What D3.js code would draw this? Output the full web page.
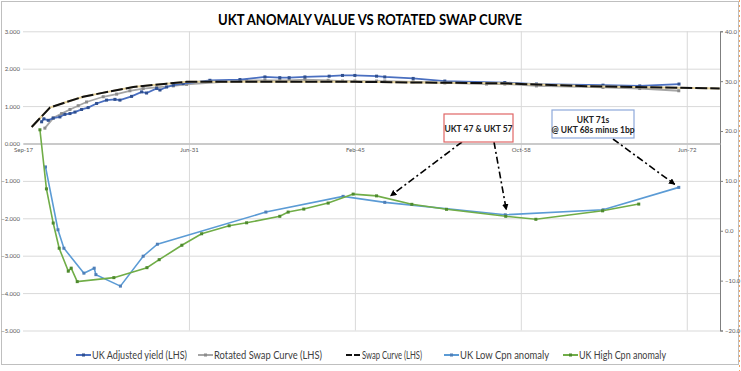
<!DOCTYPE html>
<html>
<head>
<meta charset="utf-8">
<script src="https://cdnjs.cloudflare.com/ajax/libs/d3/7.8.5/d3.min.js"></script>
<style>
    body { margin: 0; background: #fff; }
    svg text { font-family: Lato, "Liberation Sans", sans-serif; }
</style>
</head>
<body>
<svg id="chart" width="741" height="371"></svg>
<script>
// Axis ticks
const leftTicks = [-5, -4, -3, -2, -1, 0, 1, 2, 3];
const rightTicks = [-20, -10, 0, 10, 20, 30, 40];
const dateTicks = ["2017-09-22", "2031-06-01", "2045-02-07", "2058-10-16", "2072-06-24"];
const dateDomain = ["2017-09-22", "2075-03-22"];

// UK Adjusted yield (LHS)
const adjDates = ["2019-04-06", "2019-06-13", "2019-10-23", "2020-03-20", "2020-10-08", "2021-03-07", "2021-08-07",
    "2022-01-05", "2022-07-23", "2023-02-06", "2023-10-19", "2024-08-14", "2025-04-23", "2025-09-20", "2026-09-06",
    "2027-07-05", "2027-12-02", "2028-10-01", "2029-01-08", "2029-07-27", "2030-02-14", "2030-12-09", "2033-02-21",
    "2035-08-15", "2037-09-06", "2038-11-28", "2039-09-06", "2040-12-24", "2042-12-24", "2044-01-30", "2045-02-06",
    "2046-11-21", "2047-07-27", "2049-11-28", "2052-07-09", "2057-06-20", "2060-01-30", "2065-07-27", "2068-08-07",
    "2071-11-03"];
const adjYield = [0.58, 0.66, 0.62, 0.68, 0.71, 0.78, 0.80, 0.84, 0.91, 0.96, 1.07, 1.16, 1.18, 1.16, 1.26,
    1.38, 1.35, 1.47, 1.43, 1.51, 1.56, 1.60, 1.69, 1.71, 1.78, 1.76, 1.76, 1.78, 1.80, 1.82, 1.82,
    1.80, 1.78, 1.74, 1.67, 1.63, 1.59, 1.56, 1.54, 1.59];

// Rotated Swap Curve (LHS)
const rotDates = ["2019-07-13", "2020-03-20", "2020-11-28", "2021-08-07", "2022-04-12", "2022-12-20", "2024-05-04",
    "2025-06-13", "2026-07-17", "2027-08-22", "2028-10-01", "2030-02-14", "2031-03-22", "2036-03-03", "2037-09-06",
    "2038-11-28", "2039-09-06", "2040-12-24", "2042-11-24", "2044-01-30", "2045-02-06", "2046-11-21", "2047-07-27",
    "2049-11-28", "2052-07-09", "2055-12-16", "2057-06-20", "2060-01-30", "2065-07-27", "2068-08-07", "2071-10-27"];
const rotSwap = [0.41, 0.68, 0.80, 0.91, 1.01, 1.11, 1.25, 1.32, 1.41, 1.47, 1.50, 1.54, 1.58, 1.69, 1.69,
    1.69, 1.69, 1.71, 1.69, 1.67, 1.67, 1.67, 1.67, 1.65, 1.62, 1.59, 1.59, 1.54, 1.50, 1.47, 1.41];

// Swap Curve (LHS)
const swapDates = ["2018-06-10", "2019-12-13", "2021-04-26", "2022-09-09", "2024-01-26", "2026-10-27", "2029-07-27",
    "2031-03-22", "2036-06-10", "2045-02-06", "2050-06-17", "2057-01-22", "2064-06-24", "2075-03-13"];
const swapRate = [0.44, 0.96, 1.11, 1.25, 1.34, 1.51, 1.60, 1.65, 1.65, 1.65, 1.63, 1.61, 1.53, 1.47];

// UK Low Cpn anomaly (RHS)
const lowDates = ["2019-08-01", "2020-08-10", "2021-02-05", "2022-10-01", "2023-08-07", "2023-09-27", "2025-10-05",
    "2027-08-22", "2028-10-23", "2037-10-05", "2044-02-17", "2047-07-27", "2057-07-05", "2065-07-31", "2071-10-27"];
const lowAnomaly = [12.8, 0.2, -3.5, -8.5, -7.5, -8.8, -11.1, -5.1, -2.7, 3.75, 6.9, 5.7, 3.2, 4.2, 8.7];

// UK High Cpn anomaly (RHS)
const highDates = ["2019-02-14", "2019-08-29", "2020-03-20", "2020-09-16", "2021-06-17", "2021-09-13", "2022-03-14",
    "2025-03-22", "2027-12-13", "2028-12-16", "2030-10-30", "2032-06-17", "2034-09-24", "2036-03-03", "2038-11-28",
    "2039-08-07", "2040-11-20", "2042-11-24", "2044-12-17", "2046-11-21", "2049-10-19", "2052-08-29", "2057-07-19",
    "2060-01-12", "2065-07-13", "2068-07-08"];
const highAnomaly = [20.25, 8.4, 1.55, -3.5, -8.1, -7.5, -10.2, -9.4, -7.4, -5.8, -2.9, -0.6, 1.0, 1.6, 2.9,
    3.75, 4.35, 5.55, 7.35, 7.0, 5.3, 4.3, 2.9, 2.3, 4.0, 5.35];

const parseDate = d3.timeParse("%Y-%m-%d");
const zip = (dates, values) => dates.map((d, i) => ({ date: parseDate(d), value: values[i] }));

const width = 741;
const height = 371;
const plot = { left: 23, right: 720, top: 31.3, bottom: 330.5 };

const svg = d3.select("#chart");

// Chart frame
svg.append("rect")
    .attr("x", 1.5).attr("y", 1.5)
    .attr("width", 737).attr("height", 363)
    .attr("fill", "#fff")
    .attr("stroke", "#bfbfbf");

// Scales
const xScale = d3.scaleTime()
    .domain(dateDomain.map(parseDate))
    .range([plot.left, plot.right]);
const yScaleLeft = d3.scaleLinear()
    .domain([-5, 3])
    .range([plot.bottom, plot.top]);
const yScaleRight = d3.scaleLinear()
    .domain([-20, 40])
    .range([plot.bottom, plot.top]);

// Gridlines
svg.append("g")
    .attr("class", "grid")
    .attr("transform", "translate(" + plot.left + ",0)")
    .call(d3.axisLeft(yScaleLeft).tickValues(leftTicks).tickSize(-(plot.right - plot.left)).tickFormat(""))
    .call(g => g.select(".domain").remove())
    .call(g => g.selectAll("line").attr("stroke", "#d9d9d9"));
svg.append("g")
    .attr("class", "grid")
    .attr("transform", "translate(0," + plot.bottom + ")")
    .call(d3.axisBottom(xScale).tickValues(dateTicks.slice(1).map(parseDate)).tickSize(-(plot.bottom - plot.top)).tickFormat(""))
    .call(g => g.select(".domain").remove())
    .call(g => g.selectAll("line").attr("stroke", "#d9d9d9"));

// Left axis labels
svg.append("g")
    .attr("transform", "translate(20,0)")
    .call(d3.axisLeft(yScaleLeft).tickValues(leftTicks).tickSize(0).tickPadding(0).tickFormat(d3.format(".3f")))
    .call(g => g.select(".domain").remove())
    .call(g => g.selectAll("text").attr("fill", "#595959").style("font-size", "6px"));

// Right axis
svg.append("g")
    .attr("transform", "translate(" + plot.right + ",0)")
    .call(d3.axisRight(yScaleRight).tickValues(rightTicks).tickSize(3).tickPadding(2).tickFormat(d3.format(".1f")))
    .call(g => g.select(".domain").attr("stroke", "#7f7f7f"))
    .call(g => g.selectAll("line").attr("stroke", "#7f7f7f"))
    .call(g => g.selectAll("text").attr("fill", "#595959").style("font-size", "6px"));

// Date axis crossing at zero
svg.append("g")
    .attr("transform", "translate(0," + yScaleLeft(0) + ")")
    .call(d3.axisBottom(xScale).tickValues(dateTicks.map(parseDate)).tickSize(0).tickPadding(4).tickFormat(d3.timeFormat("%b-%y")))
    .call(g => g.select(".domain").attr("stroke", "#bfbfbf").attr("stroke-width", 1.3))
    .call(g => g.selectAll("text").attr("fill", "#595959").style("font-size", "6px"));

// Lines
const lineLeft = d3.line()
    .x(function(d) { return xScale(d.date); })
    .y(function(d) { return yScaleLeft(d.value); });
const lineRight = d3.line()
    .x(function(d) { return xScale(d.date); })
    .y(function(d) { return yScaleRight(d.value); });

const series = [
    { name: "UK Low Cpn anomaly", data: zip(lowDates, lowAnomaly), line: lineRight, color: "#5b9bd5", marker: "#4f7fb8", width: 1.6 },
    { name: "UK High Cpn anomaly", data: zip(highDates, highAnomaly), line: lineRight, color: "#70ad47", marker: "#4e8a2e", width: 1.6 },
    { name: "Rotated Swap Curve (LHS)", data: zip(rotDates, rotSwap), line: lineLeft, color: "#a5a5a5", marker: "#8c8c8c", width: 1.8 },
    { name: "UK Adjusted yield (LHS)", data: zip(adjDates, adjYield), line: lineLeft, color: "#4a6fc0", marker: "#2f4f8f", width: 1.8 }
];

series.forEach(function(s) {
    svg.append("path")
        .datum(s.data)
        .attr("fill", "none")
        .attr("stroke", s.color)
        .attr("stroke-width", s.width)
        .attr("d", s.line);
    svg.append("g")
        .selectAll("rect")
        .data(s.data)
        .join("rect")
        .attr("x", d => xScale(d.date) - 1.5)
        .attr("y", d => s.line.y()(d) - 1.5)
        .attr("width", 3)
        .attr("height", 3)
        .attr("fill", s.marker);
});

// Swap curve: tan underlay with black dashes on top
const swapData = zip(swapDates, swapRate);
svg.append("path")
    .datum(swapData)
    .attr("fill", "none")
    .attr("stroke", "#e3cf98")
    .attr("stroke-width", 2)
    .attr("d", lineLeft);
svg.append("path")
    .datum(swapData)
    .attr("fill", "none")
    .attr("stroke", "#111")
    .attr("stroke-width", 2)
    .attr("stroke-dasharray", "12,3")
    .attr("d", lineLeft);

// Title
svg.append("text")
    .attr("x", 370)
    .attr("y", 25)
    .attr("text-anchor", "middle")
    .style("font-size", "15px")
    .style("font-weight", "bold")
    .attr("textLength", 304)
    .attr("lengthAdjust", "spacingAndGlyphs")
    .attr("fill", "#000")
    .text("UKT ANOMALY VALUE VS ROTATED SWAP CURVE");

// Annotations
svg.append("defs").append("marker")
    .attr("id", "arrow")
    .attr("viewBox", "0 0 10 10")
    .attr("refX", 9).attr("refY", 5)
    .attr("markerWidth", 4).attr("markerHeight", 4)
    .attr("orient", "auto")
    .append("path")
    .attr("d", "M0,0 L10,5 L0,10 z")
    .attr("fill", "#000");

const notes = [
    { lines: ["UKT 47 & UKT 57"], box: [444, 114, 69, 28], stroke: "#e06666",
        arrows: [[462, 142, highDates[19], highAnomaly[19], 14, 0], [494, 142, lowDates[12], lowAnomaly[12], 1, -5]] },
    { lines: ["UKT 71s", "@ UKT 68s minus 1bp"], box: [552, 110, 82, 28], stroke: "#8ea9db",
        arrows: [[613, 139, lowDates[14], lowAnomaly[14], -4, -3]] }
];

notes.forEach(function(n) {
    n.arrows.forEach(function(a) {
        svg.append("line")
            .attr("x1", a[0]).attr("y1", a[1])
            .attr("x2", xScale(parseDate(a[2])) + a[4])
            .attr("y2", yScaleRight(a[3]) + a[5])
            .attr("stroke", "#000")
            .attr("stroke-width", 1.6)
            .attr("stroke-dasharray", "7,3,2,3")
            .attr("marker-end", "url(#arrow)");
    });
    svg.append("rect")
        .attr("x", n.box[0]).attr("y", n.box[1])
        .attr("width", n.box[2]).attr("height", n.box[3])
        .attr("fill", "#fff")
        .attr("stroke", n.stroke)
        .attr("stroke-width", 1.2);
    n.lines.forEach(function(t, i) {
        svg.append("text")
            .attr("x", n.box[0] + n.box[2] / 2)
            .attr("y", n.box[1] + (n.lines.length === 1 ? 17.5 : 12.5 + i * 10))
            .attr("text-anchor", "middle")
            .style("font-size", "8.5px")
            .style("font-weight", "bold")
            .attr("fill", "#222")
            .text(t);
    });
});

// Legend
const legendItems = [
    { name: "UK Adjusted yield (LHS)", color: "#4a6fc0", marker: "#2f4f8f", x: 76, w: 95 },
    { name: "Rotated Swap Curve (LHS)", color: "#a5a5a5", marker: "#8c8c8c", x: 198, w: 108 },
    { name: "Swap Curve (LHS)", color: "#111", marker: null, x: 346, w: 60 },
    { name: "UK Low Cpn anomaly", color: "#5b9bd5", marker: "#4f7fb8", x: 444, w: 89 },
    { name: "UK High Cpn anomaly", color: "#70ad47", marker: "#4e8a2e", x: 563, w: 87 }
];
const legend = svg.append("g").attr("transform", "translate(0,355)");
legendItems.forEach(function(l) {
    legend.append("line")
        .attr("x1", l.x).attr("x2", l.x + 15)
        .attr("stroke", l.color)
        .attr("stroke-width", 2)
        .attr("stroke-dasharray", l.marker ? null : "6,2");
    if (l.marker) {
        legend.append("rect")
            .attr("x", l.x + 6).attr("y", -1.5)
            .attr("width", 3).attr("height", 3)
            .attr("fill", l.marker);
    }
    legend.append("text")
        .attr("x", l.x + 16)
        .attr("y", 4)
        .style("font-size", "10.5px")
        .attr("textLength", l.w)
        .attr("lengthAdjust", "spacingAndGlyphs")
        .attr("fill", "#404040")
        .text(l.name);
});

// Sheet edge on the right
svg.append("line")
    .attr("x1", 739.5).attr("x2", 739.5)
    .attr("y1", 0).attr("y2", height)
    .attr("stroke", "#f4a460")
    .attr("stroke-dasharray", "2,3");
</script>
</body>
</html>
